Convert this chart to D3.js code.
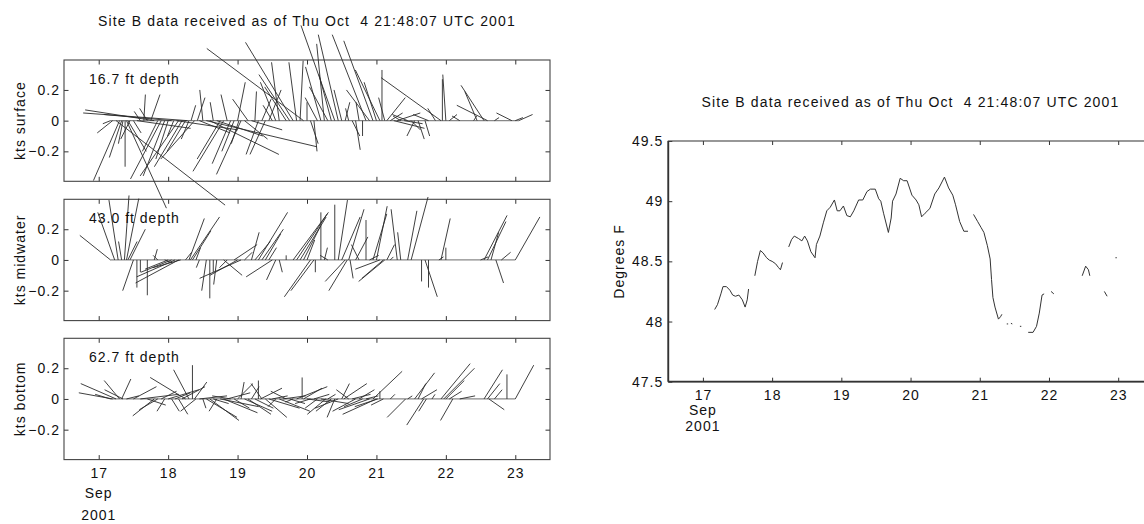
<!DOCTYPE html>
<html><head><meta charset="utf-8">
<script src="https://cdn.jsdelivr.net/npm/d3@7"></script>
<style>
body{margin:0;background:#fff;}
svg{display:block;font-family:"Liberation Sans",Arial,Helvetica,sans-serif;}
text{fill:#111;font-size:14px;letter-spacing:1px;}
</style></head><body>
<svg id="c" width="1144" height="524"></svg>
<script>
const titleText = "Site B data received as of Thu Oct\u00a0 4 21:48:07 UTC 2001";
const dayTicks = [17,18,19,20,21,22,23];
const monthLabel = "Sep";
const yearLabel = "2001";
const ktsTicks = [-0.2, 0, 0.2];
const tempTicks = [47.5, 48, 48.5, 49, 49.5];
const panelNames = ["kts surface", "kts midwater", "kts bottom"];
const depthLabels = ["16.7 ft depth", "43.0 ft depth", "62.7 ft depth"];

// surface sticks: day, east (u) and north (v) components in knots
const surfDay = [17.17,17.2,17.25,17.3,17.33,17.35,17.38,17.4,17.42,17.45,17.5,17.55,17.6,17.65,17.7,17.75,17.8,17.85,17.9,17.95,18.0,18.05,18.08,18.12,18.15,18.2,18.25,18.28,18.3,18.33,18.38,18.42,18.45,18.5,18.55,18.6,18.65,18.7,18.75,18.8,18.85,18.9,18.95,19.0,19.02,19.05,19.1,19.15,19.2,19.25,19.3,19.35,19.4,19.45,19.5,19.55,19.6,19.7,19.75,19.8,19.85,19.9,19.95,20.0,20.05,20.1,20.15,20.2,20.25,20.3,20.35,20.4,20.45,20.5,20.55,20.6,20.65,20.7,20.75,20.8,20.85,20.9,20.95,21.0,21.05,21.08,21.12,21.15,21.2,21.25,21.3,21.35,21.4,21.45,21.5,21.55,21.6,21.7,21.75,21.85,21.93,21.95,22.0,22.05,22.2,22.4,22.45,22.55,22.6,22.7,22.95,23.0,23.05];
const surfU = [-0.05,-0.1,0.71,-0.17,-0.08,-0.03,0.0,0.26,0.12,-0.06,0.05,0.35,-0.04,0.01,-0.05,0.06,-0.45,-0.1,-0.2,-0.14,-0.08,-0.44,-0.04,0.4,-0.25,-0.18,-0.12,-0.68,-0.05,0.03,-0.22,0.05,0.2,-0.02,0.72,0.45,-0.02,0.3,-0.15,-0.2,-0.04,-0.12,-0.08,0.05,-0.05,-0.16,0.15,-0.1,0.2,0.01,-0.08,0.06,-0.1,0.08,-0.06,-0.1,-0.05,-0.14,-0.2,-0.31,-0.05,0.02,-0.63,0.0,0.05,0.02,-0.08,-0.1,-0.05,-0.12,-0.08,-0.22,-0.13,-0.05,0.03,-0.02,0.05,0.03,-0.02,0.0,-0.22,-0.15,-0.19,-0.08,-0.16,0.0,-0.04,0.12,0.08,0.2,0.15,-0.05,0.12,-0.1,0.06,-0.05,0.04,0.03,-0.1,-0.05,-0.39,0.0,-0.02,0.05,-0.05,0.02,-0.08,-0.15,-0.2,0.03,-0.1,0.05,0.09];
const surfV = [-0.02,-0.08,-0.55,-0.39,-0.24,-0.15,-0.3,-0.57,-0.2,-0.12,-0.08,-0.05,0.06,0.17,0.08,0.17,0.07,-0.2,-0.38,-0.36,-0.25,0.04,-0.1,-0.06,-0.36,-0.3,-0.2,0.05,-0.12,0.1,-0.25,0.15,-0.08,0.2,-0.17,-0.22,0.12,-0.1,-0.25,-0.33,0.17,-0.28,-0.2,0.25,-0.15,-0.35,-0.12,0.14,-0.06,0.19,-0.22,0.14,-0.22,0.2,0.1,0.25,0.38,0.22,0.3,0.51,0.38,0.39,0.47,0.12,-0.15,-0.2,0.15,0.35,0.5,0.22,0.3,0.62,0.56,0.2,0.12,0.08,-0.1,-0.19,0.12,-0.1,0.56,0.2,0.52,0.25,0.33,0.33,0.15,0.15,0.05,-0.05,0.05,0.03,-0.02,0.04,-0.06,-0.1,-0.12,-0.1,0.04,0.08,0.28,0.27,0.3,0.04,0.03,0.03,0.19,0.23,0.1,0.02,0.05,0.02,0.04];

const midDay = [17.17,17.23,17.28,17.33,17.37,17.4,17.42,17.45,17.5,17.55,17.6,17.7,17.8,17.85,17.95,18.0,18.05,18.1,18.15,18.18,18.25,18.3,18.32,18.35,18.4,18.45,18.55,18.6,18.65,18.7,18.8,18.85,18.95,19.0,19.05,19.1,19.2,19.25,19.3,19.35,19.4,19.45,19.5,19.55,19.6,19.7,19.8,19.85,19.9,19.95,20.0,20.05,20.1,20.12,20.2,20.25,20.3,20.4,20.45,20.5,20.55,20.58,20.6,20.62,20.7,20.75,20.85,20.9,20.95,21.0,21.05,21.1,21.12,21.15,21.2,21.3,21.35,21.45,21.5,21.65,21.7,21.75,21.9,21.93,22.0,22.5,22.55,22.6,22.65,22.72,22.8,23.0];
const midU = [-0.2,-0.11,-0.06,-0.02,0.03,0.08,0.06,0.1,-0.07,0.0,0.0,0.0,0.02,-0.03,0.05,-0.15,-0.2,-0.25,-0.28,-0.18,0.04,0.1,0.19,0.12,0.03,-0.02,-0.03,0.0,0.0,-0.02,0.12,-0.05,0.15,-0.18,-0.27,0.05,0.05,0.1,0.19,0.14,0.1,0.05,-0.17,-0.06,0.02,0.0,0.23,0.2,0.17,0.11,0.05,-0.17,-0.15,0.0,0.0,0.02,-0.05,0.0,0.06,0.12,-0.13,-0.12,0.1,0.02,0.08,-0.05,0.0,0.06,0.09,0.07,-0.16,-0.14,-0.17,0.05,0.02,-0.04,-0.02,0.06,0.11,0.0,0.08,0.0,0.03,0.06,0.0,0.05,0.15,0.12,0.05,0.05,0.06,0.16];
const midV = [0.16,0.31,0.39,0.12,0.42,0.4,0.12,0.2,-0.2,-0.18,-0.08,-0.23,0.07,0.03,-0.02,-0.06,-0.08,-0.11,-0.15,-0.05,0.05,0.27,0.28,0.19,0.08,-0.05,-0.2,-0.25,-0.08,-0.16,-0.1,-0.05,0.1,-0.1,-0.12,0.05,0.18,0.12,0.31,0.2,0.17,0.08,-0.11,-0.13,-0.08,0.03,0.31,0.3,0.28,0.22,0.13,-0.24,-0.2,-0.08,0.31,0.08,0.03,0.36,0.39,0.28,-0.14,-0.2,0.33,-0.12,0.15,0.1,0.26,0.03,0.3,0.35,-0.06,-0.12,-0.14,0.1,0.02,0.33,0.18,0.32,0.41,-0.14,-0.24,-0.18,0.02,0.27,0.08,0.02,0.29,0.25,0.18,-0.15,0.05,0.28];

const botDay = [17.17,17.2,17.25,17.3,17.33,17.35,17.4,17.5,17.6,17.7,17.8,17.85,17.9,17.95,18.0,18.05,18.1,18.15,18.2,18.25,18.3,18.35,18.38,18.4,18.45,18.5,18.55,18.6,18.65,18.7,18.75,18.8,18.85,18.9,18.95,19.0,19.05,19.1,19.15,19.2,19.25,19.3,19.33,19.35,19.4,19.45,19.5,19.55,19.6,19.65,19.7,19.75,19.8,19.85,19.93,19.95,20.0,20.05,20.1,20.15,20.2,20.27,20.3,20.35,20.4,20.45,20.5,20.53,20.6,20.65,20.7,20.75,20.8,20.85,20.9,20.95,21.0,21.02,21.05,21.1,21.2,21.42,21.45,21.55,21.6,21.65,21.68,21.72,21.8,21.93,21.97,22.0,22.05,22.1,22.2,22.55,22.6,22.62,22.7,22.88,23.0];
const botU = [-0.1,-0.22,-0.23,-0.1,0.06,-0.12,0.08,0.15,0.25,0.12,-0.14,-0.12,0.1,-0.05,0.2,0.05,0.1,0.06,0.15,-0.23,-0.1,0.0,0.08,-0.1,0.18,0.02,0.2,0.19,0.1,-0.05,0.25,0.22,0.15,-0.12,0.1,0.1,0.02,0.18,0.15,0.05,0.12,0.0,0.14,-0.07,0.14,0.2,0.1,-0.05,0.2,0.15,-0.1,0.1,-0.05,0.2,0.0,0.12,0.15,-0.1,0.1,-0.08,0.18,-0.12,0.05,-0.1,-0.05,-0.15,0.05,0.15,-0.08,0.12,-0.15,0.1,-0.12,0.08,-0.2,0.19,-0.22,-0.15,0.0,-0.08,0.03,-0.12,0.03,0.13,0.05,0.1,-0.11,-0.05,0.02,0.19,0.2,0.12,0.08,-0.08,0.1,0.12,0.08,0.1,0.05,0.0,0.12];
const botV = [0.03,0.04,0.1,0.12,0.13,0.06,0.02,0.08,0.03,-0.04,-0.11,-0.07,0.05,-0.08,0.06,-0.08,0.04,-0.1,0.08,0.14,0.19,0.22,0.11,-0.08,0.02,-0.06,-0.12,-0.14,-0.03,-0.08,-0.05,-0.09,0.04,0.02,-0.06,0.1,0.11,-0.08,-0.1,0.08,-0.06,0.12,0.07,0.1,-0.12,-0.06,0.02,-0.05,-0.08,0.02,0.05,-0.03,-0.02,0.08,0.14,0.07,-0.02,-0.03,0.03,-0.06,-0.03,-0.1,0.03,-0.08,-0.12,-0.06,0.1,0.1,0.06,0.03,-0.08,0.06,-0.05,0.02,-0.07,0.18,-0.1,-0.05,0.05,-0.04,0.03,-0.12,0.02,0.17,0.1,0.06,-0.17,-0.08,0.03,0.23,0.2,0.12,0.05,-0.14,0.02,0.19,0.1,-0.07,0.06,0.16,0.22];

// water temperature (null = gap in record)
const tempDay = [17.17,17.21,17.26,17.29,17.34,17.39,17.43,17.47,17.52,17.57,17.61,17.64,17.66,null,
 17.75,17.79,17.83,17.87,17.92,17.96,18.0,18.05,18.09,18.12,18.15,null,
 18.24,18.28,18.32,18.38,18.43,18.47,18.51,18.56,18.62,18.64,18.69,18.74,18.79,18.84,18.9,18.94,18.98,19.03,19.08,19.13,19.18,19.25,19.31,19.37,19.42,19.49,19.54,19.57,19.61,19.68,19.72,19.74,19.79,19.85,19.9,19.95,20.02,20.08,20.12,20.16,20.21,20.28,20.35,20.41,20.49,20.55,20.61,20.65,20.71,20.77,20.83,null,
 20.91,20.97,21.02,21.06,21.11,21.15,21.17,21.19,21.22,21.27,21.3,21.32,null,
 21.39,21.41,null,21.45,21.47,null,21.58,21.6,null,
 21.7,21.77,21.82,21.86,21.9,21.93,null,22.03,22.07,null,
 22.48,22.53,22.57,22.59,null,22.8,22.84,null,22.96,22.98];
const tempF = [48.10,48.14,48.23,48.29,48.29,48.26,48.22,48.21,48.22,48.18,48.12,48.18,48.27,null,
 48.38,48.5,48.59,48.57,48.53,48.51,48.5,48.48,48.45,48.43,48.49,null,
 48.62,48.68,48.71,48.69,48.67,48.71,48.67,48.58,48.53,48.64,48.71,48.82,48.92,48.95,49.01,48.92,48.92,48.96,48.88,48.87,48.92,49.01,49.01,49.08,49.1,49.1,49.02,49.0,48.9,48.74,48.86,49.0,49.06,49.19,49.17,49.17,49.05,49.01,48.97,48.87,48.9,48.94,49.06,49.11,49.2,49.11,49.05,48.97,48.83,48.75,48.75,null,
 48.89,48.83,48.78,48.74,48.63,48.52,48.35,48.2,48.12,48.02,48.04,48.06,null,
 47.98,47.98,null,47.985,47.98,null,47.96,47.96,null,
 47.91,47.91,47.96,48.07,48.22,48.23,null,48.25,48.23,null,
 48.38,48.46,48.43,48.38,null,48.25,48.21,null,48.53,48.53];

const svg = d3.select("#c");
const ink = "#333";

// ---------- left: stick plots ----------
const xL = d3.scaleLinear().domain([16.5, 23.5]).range([64, 550]);
const panelTops = [60, 199.3, 338.3];
const panelH = 121.3;
const sticks = [[surfDay, surfU, surfV], [midDay, midU, midV], [botDay, botU, botV]];

svg.append("text").attr("x", 307).attr("y", 26).attr("text-anchor", "middle")
  .style("letter-spacing", "1.15px").text(titleText);

panelTops.forEach((top, p) => {
  const y = d3.scaleLinear().domain([-0.395, 0.395]).range([top + panelH, top]);
  const [day, u, v] = sticks[p];
  const g = svg.append("g");
  const isBottom = p === 2;

  g.append("g").attr("transform", `translate(0,${top + panelH})`).style("color", ink)
    .call(d3.axisBottom(xL).tickValues(dayTicks).tickSizeInner(-4.5).tickSizeOuter(0).tickPadding(8)
      .tickFormat(isBottom ? d3.format("d") : () => ""))
    .call(s => s.select(".domain").remove());
  g.append("g").attr("transform", `translate(0,${top})`).style("color", ink)
    .call(d3.axisTop(xL).tickValues(dayTicks).tickSizeInner(-4.5).tickSizeOuter(0).tickFormat(() => ""))
    .call(s => s.select(".domain").remove());
  g.append("g").attr("transform", `translate(64,0)`).style("color", ink)
    .call(d3.axisLeft(y).tickValues(ktsTicks).tickSizeInner(-4.5).tickSizeOuter(0).tickPadding(4)
      .tickFormat(d => d === 0 ? "0" : d3.format(".1f")(d)))
    .call(s => s.select(".domain").remove());
  g.append("g").attr("transform", `translate(550,0)`).style("color", ink)
    .call(d3.axisRight(y).tickValues(ktsTicks).tickSizeInner(-4.5).tickSizeOuter(0).tickFormat(() => ""))
    .call(s => s.select(".domain").remove());

  g.append("rect").attr("x", 64).attr("y", top).attr("width", 486).attr("height", panelH)
    .attr("fill", "none").attr("stroke", "#444").attr("stroke-width", 1.1);

  // baseline
  g.append("line").attr("x1", xL(day[0])).attr("x2", xL(day[day.length - 1]))
    .attr("y1", y(0)).attr("y2", y(0)).attr("stroke", "#888").attr("stroke-width", 1.2);

  const k = y(0) - y(1);
  g.selectAll("line.stick").data(d3.range(day.length)).join("line").attr("class", "stick")
    .attr("x1", i => xL(day[i])).attr("y1", y(0))
    .attr("x2", i => xL(day[i]) + u[i] * k).attr("y2", i => y(v[i]))
    .attr("stroke", "#2a2a2a").attr("stroke-width", 0.9);

  g.append("text").attr("x", 89).attr("y", top + 24).text(depthLabels[p]);
  g.append("text").attr("transform", `translate(25,${top + panelH / 2}) rotate(-90)`)
    .attr("text-anchor", "middle").text(panelNames[p]);

  if (isBottom) {
    svg.append("text").attr("x", xL(17)).attr("y", 498).attr("text-anchor", "middle").text(monthLabel);
    svg.append("text").attr("x", xL(17)).attr("y", 520).attr("text-anchor", "middle").text(yearLabel);
  }
});

// ---------- right: temperature ----------
const xR = d3.scaleLinear().domain([16.5, 23.5]).range([668.3, 1152.8]);
const yR = d3.scaleLinear().domain([47.5, 49.5]).range([381.7, 141]);
const gR = svg.append("g");

gR.append("text").attr("x", 910.5).attr("y", 107).attr("text-anchor", "middle")
  .style("letter-spacing", "1.15px").text(titleText);

gR.append("g").attr("transform", `translate(0,381.7)`).style("color", ink)
  .call(d3.axisBottom(xR).tickValues(dayTicks).tickSizeInner(-4).tickSizeOuter(0).tickPadding(8).tickFormat(d3.format("d")))
  .call(s => s.select(".domain").remove());
gR.append("g").attr("transform", `translate(0,141)`).style("color", ink)
  .call(d3.axisTop(xR).tickValues(dayTicks).tickSizeInner(-4).tickSizeOuter(0).tickFormat(() => ""))
  .call(s => s.select(".domain").remove());
gR.append("g").attr("transform", `translate(668.3,0)`).style("color", ink)
  .call(d3.axisLeft(yR).tickValues(tempTicks).tickSizeInner(-4).tickSizeOuter(0).tickPadding(5).tickFormat(d => String(d)))
  .call(s => s.select(".domain").remove());

gR.append("rect").attr("x", 668.3).attr("y", 141).attr("width", 1152.8 - 668.3).attr("height", 381.7 - 141)
  .attr("fill", "none").attr("stroke", "#444").attr("stroke-width", 1.1);
gR.append("line").attr("x1", 668.3).attr("x2", 668.3).attr("y1", 141).attr("y2", 381.7).attr("stroke", "#333").attr("stroke-width", 1.8);
gR.append("line").attr("x1", 668.3).attr("x2", 1144).attr("y1", 381.7).attr("y2", 381.7).attr("stroke", "#333").attr("stroke-width", 1.8);

const line = d3.line().defined((d, i) => tempF[i] != null).x((d, i) => xR(tempDay[i])).y((d, i) => yR(tempF[i]));
gR.append("path").datum(tempF).attr("d", line).attr("fill", "none").attr("stroke", "#333").attr("stroke-width", 1);

gR.append("text").attr("x", xR(17)).attr("y", 415).attr("text-anchor", "middle").text(monthLabel);
gR.append("text").attr("x", xR(17)).attr("y", 431).attr("text-anchor", "middle").text(yearLabel);
gR.append("text").attr("transform", `translate(624,261.5) rotate(-90)`).attr("text-anchor", "middle").text("Degrees F");
</script>
</body></html>
